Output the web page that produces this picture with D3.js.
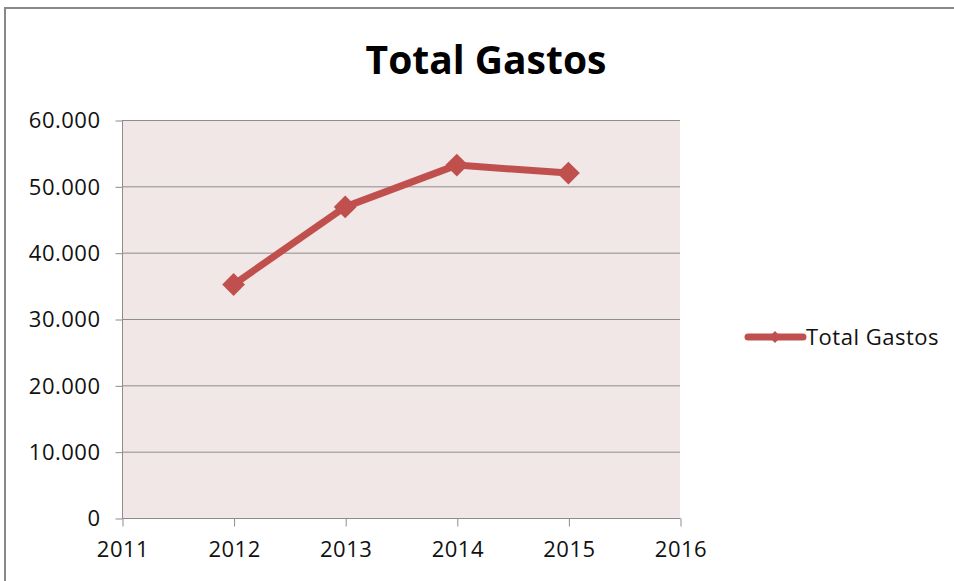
<!DOCTYPE html>
<html><head><meta charset="utf-8">
<script src="https://cdn.jsdelivr.net/npm/d3@7"></script>
<style>body{margin:0;background:#fff}svg{display:block}</style>
</head><body>
<svg id="c" width="954" height="581"></svg>
<script>
const years = [2012, 2013, 2014, 2015];
const values = [35200, 46900, 53200, 52000];
const yTicks = [0, 10000, 20000, 30000, 40000, 50000, 60000];
const xTicks = [2011, 2012, 2013, 2014, 2015, 2016];
const title = "Total Gastos";
const seriesName = "Total Gastos";

const svg = d3.select("#c");
const color = "#C0504D";
const font = "'Open Sans', 'Liberation Sans', sans-serif";
const loc = d3.formatLocale({decimal: ",", thousands: ".", grouping: [3], currency: ["", ""]});
const fmt = loc.format(",");

// chart border
svg.append("path").attr("d", "M5,581 V8 H954").attr("fill", "none").attr("stroke", "#898989").attr("stroke-width", 2);

const x = d3.scaleLinear().domain([2011, 2016]).range([122, 680]);
const y = d3.scaleLinear().domain([0, 60000]).range([518, 120]);

svg.append("rect").attr("x", x(2011)).attr("y", y(60000))
  .attr("width", x(2016) - x(2011)).attr("height", y(0) - y(60000)).attr("fill", "#F2E7E7");

// gridlines
svg.append("g").selectAll("line").data(yTicks.filter(d => d > 0)).join("line")
  .attr("x1", x(2011)).attr("x2", x(2016)).attr("y1", d => y(d) + 0.5).attr("y2", d => y(d) + 0.5)
  .attr("stroke", "#8C8C8C").attr("stroke-width", 1);

const yAxis = svg.append("g").attr("transform", `translate(${x(2011) + 0.5},0.5)`)
  .call(d3.axisLeft(y).tickValues(yTicks).tickFormat(d => d === 0 ? "0" : fmt(d)).tickSize(7).tickPadding(15));
const xAxis = svg.append("g").attr("transform", `translate(0.5,${y(0) + 0.5})`)
  .call(d3.axisBottom(x).tickValues(xTicks).tickFormat(d3.format("d")).tickSize(8).tickPadding(15));
[yAxis, xAxis].forEach(a => {
  a.selectAll("path,line").attr("stroke", "#8C8C8C");
  a.selectAll("text").attr("fill", "#111").style("font-family", font).style("font-size", "22px").style("letter-spacing", "0.5px");
});
yAxis.selectAll("text").attr("dy", "0.34em");
yAxis.select(".domain").attr("d", `M0,${y(60000)}V${y(0)}`);
xAxis.select(".domain").attr("d", `M${x(2011)},0H${x(2016)}`);

const data = years.map((yr, i) => ({yr, v: values[i]}));
svg.append("path").datum(data)
  .attr("d", d3.line().x(d => x(d.yr)).y(d => y(d.v)))
  .attr("fill", "none").attr("stroke", color).attr("stroke-width", 7).attr("stroke-linejoin", "round");
const diamond = d3.symbol().type(d3.symbolSquare).size(260);
svg.append("g").selectAll("path").data(data).join("path")
  .attr("d", diamond)
  .attr("transform", d => `translate(${x(d.yr)},${y(d.v)}) rotate(45)`)
  .attr("fill", color);

svg.append("text").attr("x", 486).attr("y", 74).attr("text-anchor", "middle")
  .style("font-family", font).style("font-weight", "bold").style("font-size", "39px").attr("fill", "#000")
  .text(title);

// legend
const lg = svg.append("g").attr("transform", "translate(748,337)");
lg.append("line").attr("x1", 0).attr("x2", 55).attr("stroke", color).attr("stroke-width", 7).attr("stroke-linecap", "round");
lg.append("path").attr("d", d3.symbol().type(d3.symbolSquare).size(70)).attr("transform", "translate(27,0) rotate(45)").attr("fill", color);
lg.append("text").attr("x", 58).attr("y", 8).style("font-family", font).style("font-size", "22px").style("letter-spacing", "0.5px").attr("fill", "#111").text(seriesName);
</script>
</body></html>
